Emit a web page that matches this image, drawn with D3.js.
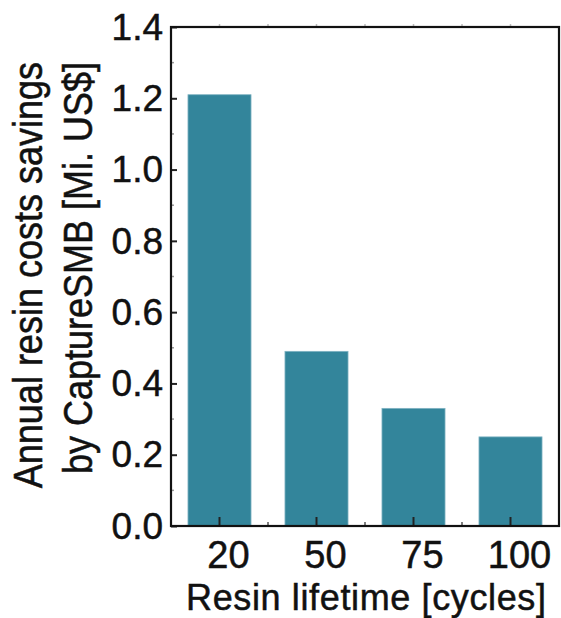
<!DOCTYPE html>
<html>
<head>
<meta charset="utf-8">
<script src="https://cdn.jsdelivr.net/npm/d3@7"></script>
<style>
  html, body { margin: 0; padding: 0; background: #fff; }
  svg { display: block; }
  text { font-family: "Liberation Sans", Arial, sans-serif; fill: #111; stroke: #111; stroke-width: 0.5px; }
</style>
</head>
<body>
<svg id="chart" width="561" height="618"></svg>
<script>
// ---- data ----
const categories = ["20", "50", "75", "100"];
const savings = [1.21, 0.49, 0.33, 0.25];
const yTicks = [0.0, 0.2, 0.4, 0.6, 0.8, 1.0, 1.2, 1.4];
const yMinorTicks = [0.1, 0.3, 0.5, 0.7, 0.9, 1.1, 1.3];
const xTitle = "Resin lifetime [cycles]";
const yTitleLines = ["Annual resin costs savings", "by CaptureSMB [Mi. US$]"];

// ---- layout ----
const W = 561, H = 618;
const m = { left: 171, right: 2, top: 27, bottom: 92 };
const plotW = W - m.left - m.right;   // 388
const plotH = H - m.top - m.bottom;   // 499
const barColor = "#33859b";

const svg = d3.select("#chart");
const g = svg.append("g").attr("transform", `translate(${m.left},${m.top})`);

const x = d3.scaleBand().domain(categories).range([0, plotW])
  .paddingInner(0.35).paddingOuter(0.175);
const y = d3.scaleLinear().domain([0, 1.4]).range([plotH, 0]);

// bars
g.selectAll("rect.bar").data(categories).join("rect")
  .attr("class", "bar")
  .attr("x", d => x(d))
  .attr("width", x.bandwidth())
  .attr("y", (d, i) => y(savings[i]))
  .attr("height", (d, i) => plotH - y(savings[i]))
  .attr("fill", barColor)
  .attr("stroke", "#7fb3c2")
  .attr("stroke-width", 0.8);

// y axis (left) with inward ticks
const yAxis = d3.axisLeft(y).tickValues(yTicks).tickFormat(d3.format(".1f"))
  .tickSizeInner(-6).tickSizeOuter(0).tickPadding(8);
const yg = g.append("g").call(yAxis);
yg.select(".domain").remove();
yg.selectAll(".tick line").attr("stroke", "#222").attr("stroke-width", 2);
yg.selectAll(".tick text")
  .attr("x", -8)
  .attr("dy", "0.33em")
  .style("font-size", "37px")
  .style("font-family", "'Liberation Sans', Arial, sans-serif")
  .attr("fill", "#111");

// y minor ticks
g.append("g").selectAll("line").data(yMinorTicks).join("line")
  .attr("x1", 0).attr("x2", 3)
  .attr("y1", d => y(d)).attr("y2", d => y(d))
  .attr("stroke", "#999").attr("stroke-width", 1.5);

// x axis (bottom) with inward ticks
const xAxis = d3.axisBottom(x).tickSizeInner(-9).tickSizeOuter(0).tickPadding(0);
const xg = g.append("g").attr("transform", `translate(0,${plotH})`).call(xAxis);
xg.select(".domain").remove();
xg.selectAll(".tick line").attr("stroke", "#222").attr("stroke-width", 2);
xg.selectAll(".tick text")
  .attr("y", 42)
  .attr("dy", 0)
  .attr("dx", 9)
  .style("font-size", "38px")
  .style("font-family", "'Liberation Sans', Arial, sans-serif")
  .attr("fill", "#111");

// x minor ticks at band boundaries (bottom) and top ticks
const boundaries = categories.slice(1).map(d => x(d) - x.step() * x.paddingInner() / 2);
g.append("g").selectAll("line").data(boundaries).join("line")
  .attr("x1", d => d).attr("x2", d => d)
  .attr("y1", plotH).attr("y2", plotH - 4)
  .attr("stroke", "#555").attr("stroke-width", 1.5);
const topTicks = categories.map(d => x(d) + x.bandwidth() / 2).concat(boundaries);
g.append("g").selectAll("line").data(topTicks).join("line")
  .attr("x1", d => d).attr("x2", d => d)
  .attr("y1", -1).attr("y2", -3)
  .attr("stroke", "#bbb").attr("stroke-width", 1.5);

// frame
g.append("rect")
  .attr("x", 0).attr("y", 0).attr("width", plotW).attr("height", plotH)
  .attr("fill", "none").attr("stroke", "#111").attr("stroke-width", 2.2);

// x title
svg.append("text")
  .attr("x", m.left + plotW / 2 + 1)
  .attr("y", 610)
  .attr("text-anchor", "middle")
  .attr("textLength", 360)
  .attr("lengthAdjust", "spacing")
  .style("font-size", "36px")
  .text(xTitle);

// y title (two lines, rotated, right-aligned at the top)
const yEnd = 62;
const yBaselines = [42, 92];
yTitleLines.forEach((t, i) => {
  svg.append("text")
    .attr("transform", `translate(${yBaselines[i]},${yEnd}) rotate(-90) scale(1,1.12)`)
    .attr("text-anchor", "end")
    .style("font-size", "36px")
    .text(t);
});
</script>
</body>
</html>
